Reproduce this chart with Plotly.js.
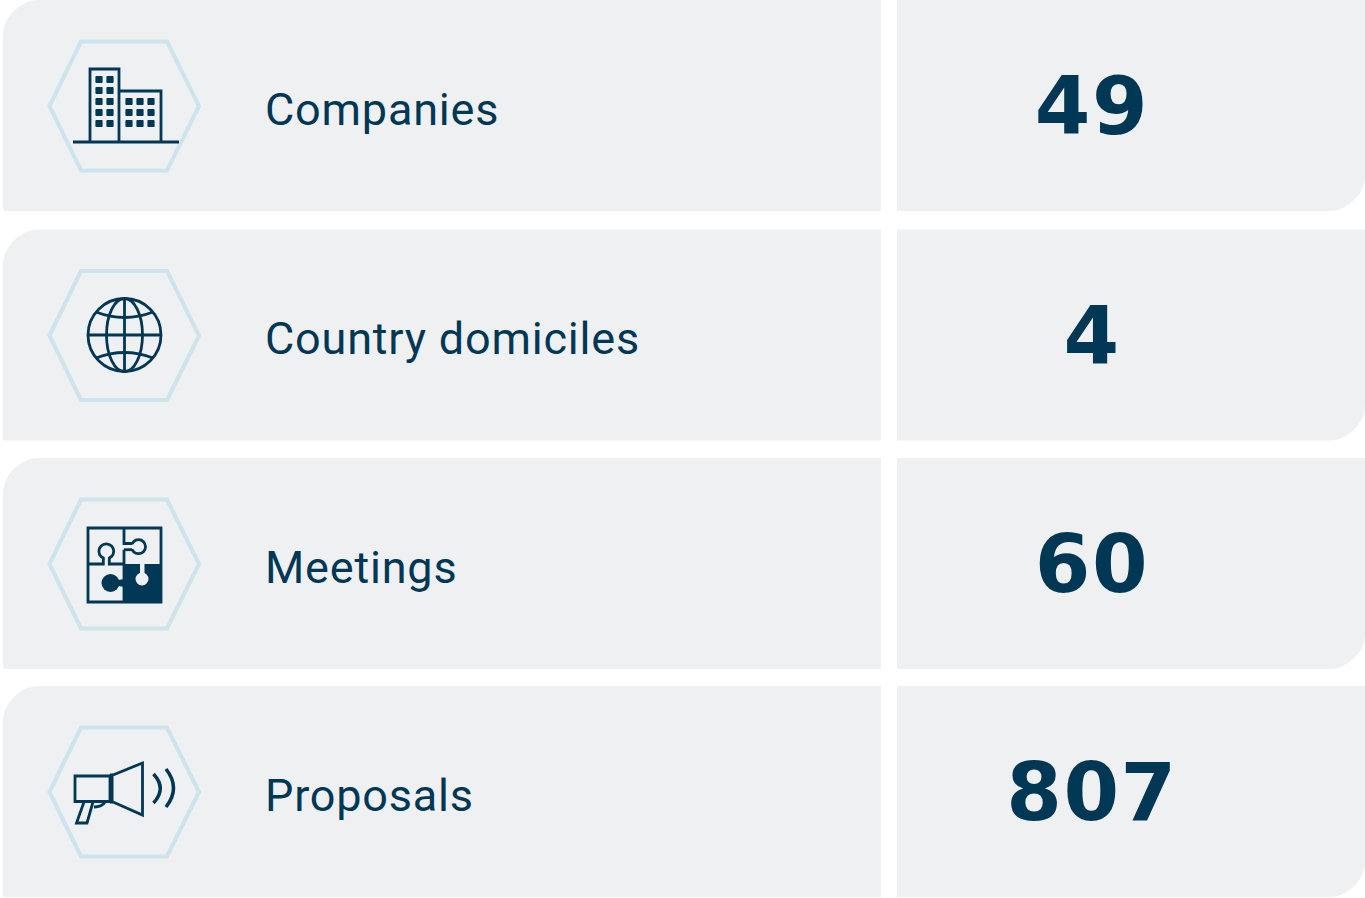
<!DOCTYPE html>
<html><head><meta charset="utf-8">
<script src="https://cdn.plot.ly/plotly-3.0.1.min.js"></script>
<style>html,body{margin:0;padding:0;background:#fff;overflow:hidden}#chart{width:1365px;height:898px}
.scatterlayer .trace:nth-child(1) text{letter-spacing:.8px}
.scatterlayer .trace:nth-child(2) text{letter-spacing:1.5px}</style>
</head><body><div id="chart"></div>
<script>
const categories = ["Companies","Country domiciles","Meetings","Proposals"];
const values = [49,4,60,807];
const rowTops = [0,229.5,458,686];
const INK='#003755', CARD='#eef0f2', HEX='#cde4ed';
const LW=2.8;
const shapes=[];
function add(path,o={}){shapes.push({type:'path',xref:'x',yref:'y',path,
  line:{color:o.stroke===undefined?INK:o.stroke,width:o.w===undefined?LW:o.w},
  fillcolor:o.fill||'rgba(0,0,0,0)',layer:o.layer||'above'});}
function circ(cx,cy,r,o={}){shapes.push({type:'circle',xref:'x',yref:'y',x0:cx-r,x1:cx+r,y0:cy-r,y1:cy+r,
  line:{color:o.stroke===undefined?INK:o.stroke,width:o.w===undefined?LW:o.w},
  fillcolor:o.fill||'rgba(0,0,0,0)',layer:'above'});}
function ell(cx,cy,rx,ry){shapes.push({type:'circle',xref:'x',yref:'y',x0:cx-rx,x1:cx+rx,y0:cy-ry,y1:cy+ry,
  line:{color:INK,width:LW},fillcolor:'rgba(0,0,0,0)',layer:'above'});}
const none={stroke:'rgba(0,0,0,0)',w:0};
rowTops.forEach((t,i)=>{
  const b=t+211, r=35;
  add(`M3,${b} L3,${t+r} C3,${t+r*0.45} ${3+r*0.55},${t} ${3+r},${t} L881,${t} L881,${b} Z`,{fill:CARD,layer:'below',...none});
  add(`M897,${t} L1365,${t} L1365,${b-r} C1365,${b-r*0.45} ${1365-r*0.55},${b} ${1365-r},${b} L897,${b} Z`,{fill:CARD,layer:'below',...none});
  const m=t+106;
  add(`M49.5,${m} L81,${t+41.5} L167,${t+41.5} L199,${m} L167,${t+170.5} L81,${t+170.5} Z`,{stroke:HEX,w:4});
});
// buildings
(function(t){
  add(`M90,${t+142} L90,${t+69} L119,${t+69} L119,${t+142}`);
  add(`M119,${t+91} L161,${t+91} L161,${t+142}`);
  add(`M73,${t+142} L179,${t+142}`,{w:3});
  const sq=(x,y)=>add(`M${x-3.6},${y-2.6} Q${x-3.6},${y-3.6} ${x-2.6},${y-3.6} L${x+2.6},${y-3.6} Q${x+3.6},${y-3.6} ${x+3.6},${y-2.6} L${x+3.6},${y+2.6} Q${x+3.6},${y+3.6} ${x+2.6},${y+3.6} L${x-2.6},${y+3.6} Q${x-3.6},${y+3.6} ${x-3.6},${y+2.6} Z`,{fill:INK,...none});
  [99,110].forEach(x=>[79.5,90.5,101.5,112.5,123.5].forEach(y=>sq(x,t+y)));
  [129,140,151].forEach(x=>[101.5,112.5,123.5].forEach(y=>sq(x,t+y)));
})(rowTops[0]);
// globe
(function(){
  const cx=124.5, cy=335;
  circ(cx,cy,36.5);
  ell(cx,cy,18,36.5);
  add(`M${cx},${cy-36.5} L${cx},${cy+36.5}`);
  add(`M${cx-36.5},${cy} L${cx+36.5},${cy}`);
  add(`M96,312 Q124.5,323 153,312`);
  add(`M96,358 Q124.5,347 153,358`);
})();
// puzzle
(function(){
  add(`M88,528 L161,528 L161,602 L88,602 Z`);
  add(`M124,564 L161,564 L161,602 L124,602 Z`,{fill:INK,...none});
  circ(142,579,6.5,{fill:CARD,...none});
  add(`M140,564 L144.5,564 L144.5,575 L140,575 Z`,{fill:CARD,...none});
  add(`M102,583 L124,579 L124,587 Z`,{fill:INK,...none});
  circ(110.5,583,9,{fill:INK,...none});
  circ(138.5,546.7,7,{});
  add(`M129,544.6 L134,544.6 L134,548.9 L129,548.9 Z`,{fill:CARD,...none});
  add(`M124,528 L124,543.5 L132,543.5`);
  add(`M124,549.7 L132,549.7`);
  add(`M124,549.7 L124,602`);
  circ(106.3,551.3,7.4,{});
  add(`M104.5,556 L108.2,556 L108.2,561 L104.5,561 Z`,{fill:CARD,...none});
  add(`M88,564 L103.3,564 L103.3,557.5`);
  add(`M124,564 L109.3,564 L109.3,557.5`);
})();
// megaphone
(function(){
  add(`M75,776 L110,776 L110,801.5 L75,801.5 Z`);
  add(`M110,774 L113,774 L113,803 L110,803 Z`,{fill:INK,stroke:INK,w:1});
  add(`M113,775 L142.5,763 L142.5,815 L113,802`);
  add(`M84,802 L76.5,823 L87,823 L93,802`);
  add(`M94,807 Q102,807 105,802`);
  add(`M153.5,774 Q167,788.5 153.5,803`,{w:3.5});
  add(`M166,769 Q181,788 166,807`,{w:3.5});
})();
const rowCentre=rowTops.map(t=>t+106);
const data=[
 {type:'scatter',mode:'text',x:categories.map(()=>265),y:rowCentre.map(y=>y+7.5),text:categories,
  textposition:'middle right',textfont:{family:'Roboto, sans-serif',size:45,color:INK},hoverinfo:'skip',cliponaxis:false},
 {type:'scatter',mode:'text',x:values.map(()=>1092),y:rowCentre.map(y=>y+8),text:values.map(String),
  textposition:'middle center',textfont:{family:'DejaVu Sans, sans-serif',size:80,color:INK,weight:700},hoverinfo:'skip',cliponaxis:false}
];
const layout={width:1365,height:898,margin:{l:0,r:0,t:0,b:0,pad:0},showlegend:false,
 paper_bgcolor:'#fff',plot_bgcolor:'rgba(0,0,0,0)',
 xaxis:{range:[0,1365],visible:false,fixedrange:true},
 yaxis:{range:[898,0],visible:false,fixedrange:true},shapes};
Plotly.newPlot('chart',data,layout,{displayModeBar:false,staticPlot:true});
</script></body></html>
